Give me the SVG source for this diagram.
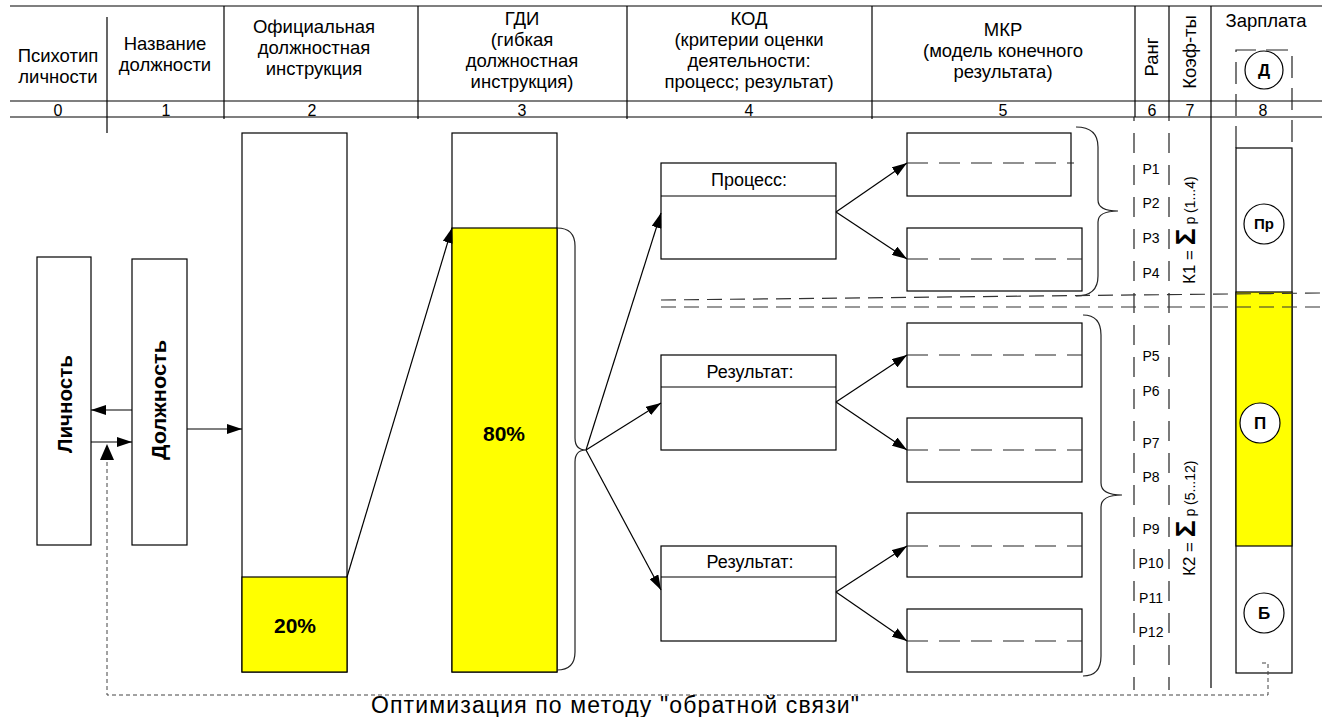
<svg xmlns="http://www.w3.org/2000/svg" width="1322" height="717" viewBox="0 0 1322 717">
<defs>
<marker id="ah" viewBox="0 0 15 10" refX="15" refY="5" markerWidth="15" markerHeight="10" markerUnits="userSpaceOnUse" orient="auto"><path d="M0,0 L15,5 L0,10 z" fill="#000"/></marker>
</defs>
<style>
text{font-family:"Liberation Sans",Arial,sans-serif;fill:#000}
.h{font-size:18.5px;text-anchor:middle}
.d{font-size:16px;text-anchor:middle}
.ln{stroke:#000;stroke-width:1.2;fill:none}
.box{fill:#fff;stroke:#000;stroke-width:1.2}
.y{fill:#ffff00;stroke:#000;stroke-width:1.2}
.rk{stroke:#222;stroke-width:1.2;fill:none;stroke-dasharray:20 12;stroke-dashoffset:16}
.sep{stroke:#333;stroke-width:1.2;fill:none;stroke-dasharray:15 8}
.mid{stroke:#222;stroke-width:1.2;fill:none;stroke-dasharray:21 11}
.arr{stroke:#000;stroke-width:1.2;fill:none;marker-end:url(#ah)}
.fb{stroke:#444;stroke-width:1;fill:none;stroke-dasharray:4 3}
.br{stroke:#222;stroke-width:1.2;fill:none}
.b{font-weight:bold}
.p{font-size:14px;text-anchor:middle}
.t{font-size:18px;text-anchor:middle}
.ci{font-size:17px;font-weight:bold;text-anchor:middle}
.cc{fill:#fff;stroke:#000;stroke-width:1.2}
</style>

<g id="header">
<line class="ln" x1="10" y1="6" x2="1322" y2="6"/>
<line class="ln" x1="10" y1="101" x2="1322" y2="101"/>
<line class="ln" x1="10" y1="117" x2="1322" y2="117"/>
<line class="ln" x1="107" y1="17" x2="107" y2="133"/>
<line class="ln" x1="224" y1="6" x2="224" y2="119"/>
<line class="ln" x1="418" y1="6" x2="418" y2="119"/>
<line class="ln" x1="627" y1="6" x2="627" y2="119"/>
<line class="ln" x1="872" y1="6" x2="872" y2="119"/>
<line class="ln" x1="1135" y1="6" x2="1135" y2="117"/>
<line class="ln" x1="1169" y1="6" x2="1169" y2="117"/>
<line class="ln" x1="1211" y1="6" x2="1211" y2="688"/>
<text class="h" x="58" y="62">Психотип</text>
<text class="h" x="58" y="83">личности</text>
<text class="h" x="165" y="50">Название</text>
<text class="h" x="165" y="71">должности</text>
<text class="h" x="314" y="33">Официальная</text>
<text class="h" x="314" y="54">должностная</text>
<text class="h" x="314" y="75">инструкция</text>
<text class="h" x="522" y="25">ГДИ</text>
<text class="h" x="522" y="46">(гибкая</text>
<text class="h" x="522" y="67">должностная</text>
<text class="h" x="522" y="88">инструкция)</text>
<text class="h" x="749" y="25">КОД</text>
<text class="h" x="749" y="46">(критерии оценки</text>
<text class="h" x="749" y="67">деятельности:</text>
<text class="h" x="749" y="88">процесс; результат)</text>
<text class="h" x="1003" y="36">МКР</text>
<text class="h" x="1003" y="57">(модель конечного</text>
<text class="h" x="1003" y="78">результата)</text>
<text class="h" transform="translate(1158,57) rotate(-90)">Ранг</text>
<text class="h" transform="translate(1196,52) rotate(-90)">Коэф-ты</text>
<text class="h" x="1266" y="27">Зарплата</text>
<text class="d" x="58" y="116">0</text>
<text class="d" x="166" y="116">1</text>
<text class="d" x="312" y="116">2</text>
<text class="d" x="522" y="116">3</text>
<text class="d" x="749" y="116">4</text>
<text class="d" x="1003" y="116">5</text>
<text class="d" x="1152" y="116">6</text>
<text class="d" x="1190" y="116">7</text>
<text class="d" x="1263" y="116">8</text>
</g>

<g id="rank">
<line class="rk" x1="1134" y1="117" x2="1134" y2="690"/>
<line class="rk" x1="1169" y1="117" x2="1169" y2="690"/>
<text class="p" x="1151" y="174">Р1</text>
<text class="p" x="1151" y="208">Р2</text>
<text class="p" x="1151" y="243">Р3</text>
<text class="p" x="1151" y="278">Р4</text>
<text class="p" x="1151" y="361">Р5</text>
<text class="p" x="1151" y="396">Р6</text>
<text class="p" x="1151" y="448">Р7</text>
<text class="p" x="1151" y="482">Р8</text>
<text class="p" x="1151" y="534">Р9</text>
<text class="p" x="1151" y="568">Р10</text>
<text class="p" x="1151" y="603">Р11</text>
<text class="p" x="1151" y="637">Р12</text>
</g>

<g id="coef">
<text transform="translate(1195,284) rotate(-90)" style="font-size:17px">К1 = <tspan class="b" style="font-size:28px">Σ</tspan><tspan style="font-size:14px"> р (1...4)</tspan></text>
<text transform="translate(1195,576) rotate(-90)" style="font-size:17px">К2 = <tspan class="b" style="font-size:28px">Σ</tspan><tspan style="font-size:14px"> р (5...12)</tspan></text>
</g>

<g id="salary">
<path d="M1236,148 V50 H1292 V148" style="stroke:#222;stroke-width:1.2;fill:none;stroke-dasharray:22 10"/>
<circle class="cc" cx="1264" cy="70" r="19"/>
<text class="ci" x="1264" y="76">Д</text>
<rect class="box" x="1236" y="148" width="56" height="525"/>
<rect class="y" x="1236" y="292" width="56" height="254"/>
<circle class="cc" cx="1264" cy="224" r="20"/>
<text class="ci" x="1264" y="229" style="font-size:15px">Пр</text>
<circle class="cc" cx="1260" cy="423" r="20"/>
<text class="ci" x="1260" y="429">П</text>
<circle class="cc" cx="1264" cy="613" r="20"/>
<text class="ci" x="1264" y="619">Б</text>
</g>

<g id="lichnost">
<rect class="box" x="37" y="257" width="54" height="288"/>
<text class="b" transform="translate(72,404) rotate(-90)" style="font-size:21px;text-anchor:middle" textLength="98" lengthAdjust="spacingAndGlyphs">Личность</text>
</g>
<g id="dolzhnost">
<rect class="box" x="132" y="259" width="55" height="286"/>
<text class="b" transform="translate(166,400) rotate(-90)" style="font-size:21px;text-anchor:middle" textLength="120" lengthAdjust="spacingAndGlyphs">Должность</text>
</g>
<g id="official">
<rect class="box" x="242" y="133" width="105" height="539"/>
<rect class="y" x="242" y="577" width="105" height="95"/>
<text class="b" x="295" y="633" style="font-size:21px;text-anchor:middle">20%</text>
</g>
<g id="gdi">
<rect class="box" x="452" y="133" width="105" height="539"/>
<rect class="y" x="452" y="228" width="105" height="444"/>
<text class="b" x="504" y="441" style="font-size:21px;text-anchor:middle">80%</text>
</g>
<g id="process">
<rect class="box" x="661" y="163" width="175" height="96"/>
<line class="ln" x1="661" y1="196" x2="836" y2="196"/>
<text class="t" x="749" y="186">Процесс:</text>
</g>
<g id="result1">
<rect class="box" x="661" y="355" width="175" height="95"/>
<line class="ln" x1="661" y1="387" x2="836" y2="387"/>
<text class="t" x="750" y="378">Результат:</text>
</g>
<g id="result2">
<rect class="box" x="661" y="546" width="175" height="95"/>
<line class="ln" x1="661" y1="577" x2="836" y2="577"/>
<text class="t" x="750" y="568">Результат:</text>
</g>
<g id="mkr1"><rect class="box" x="907" y="133" width="164" height="63"/><line class="mid" x1="907" y1="163" x2="1074" y2="163"/></g>
<g id="mkr2"><rect class="box" x="907" y="228" width="175" height="63"/><line class="mid" x1="907" y1="259" x2="1082" y2="259"/></g>
<g id="mkr3"><rect class="box" x="907" y="323" width="175" height="64"/><line class="mid" x1="907" y1="355" x2="1082" y2="355"/></g>
<g id="mkr4"><rect class="box" x="907" y="418" width="175" height="64"/><line class="mid" x1="907" y1="450" x2="1082" y2="450"/></g>
<g id="mkr5"><rect class="box" x="907" y="513" width="175" height="64"/><line class="mid" x1="907" y1="546" x2="1082" y2="546"/></g>
<g id="mkr6"><rect class="box" x="907" y="609" width="175" height="63"/><line class="mid" x1="907" y1="641" x2="1082" y2="641"/></g>

<g id="connectors">
<line class="arr" x1="132" y1="410" x2="91" y2="410"/>
<line class="arr" x1="91" y1="442" x2="132" y2="442"/>
<line class="arr" x1="187" y1="429" x2="242" y2="429"/>
<line class="arr" x1="347" y1="577" x2="452" y2="228"/>
<line class="arr" x1="586" y1="450" x2="661" y2="213"/>
<line class="arr" x1="586" y1="450" x2="661" y2="403"/>
<line class="arr" x1="586" y1="450" x2="661" y2="590"/>
<line class="arr" x1="836" y1="212" x2="907" y2="163"/>
<line class="arr" x1="836" y1="212" x2="907" y2="259"/>
<line class="arr" x1="836" y1="402" x2="907" y2="355"/>
<line class="arr" x1="836" y1="402" x2="907" y2="450"/>
<line class="arr" x1="836" y1="592" x2="907" y2="546"/>
<line class="arr" x1="836" y1="592" x2="907" y2="641"/>
<path class="fb" d="M1262,663 H1268 V695 H107 V446"/>
<path d="M100,460 L107,444 L114,460 z" fill="#000"/>
<path class="br" d="M557,228 Q575,228 575,246 V438 Q575,450 586,450 Q575,450 575,462 V652 Q575,670 557,670"/>
<path class="br" d="M1076,127 Q1098,127 1098,147 V200 Q1098,211 1118,211 Q1098,211 1098,222 V276 Q1098,296 1076,296"/>
<path class="br" d="M1083,315 Q1101,315 1101,335 V483 Q1101,495 1122,495 Q1101,495 1101,507 V656 Q1101,676 1083,676"/>
<line class="sep" x1="661" y1="300" x2="1322" y2="293"/>
<line class="sep" x1="661" y1="307" x2="1322" y2="307"/>
</g>

<text x="615" y="713" style="font-size:23px;text-anchor:middle" textLength="488" lengthAdjust="spacing">Оптимизация по методу "обратной связи"</text>
</svg>
